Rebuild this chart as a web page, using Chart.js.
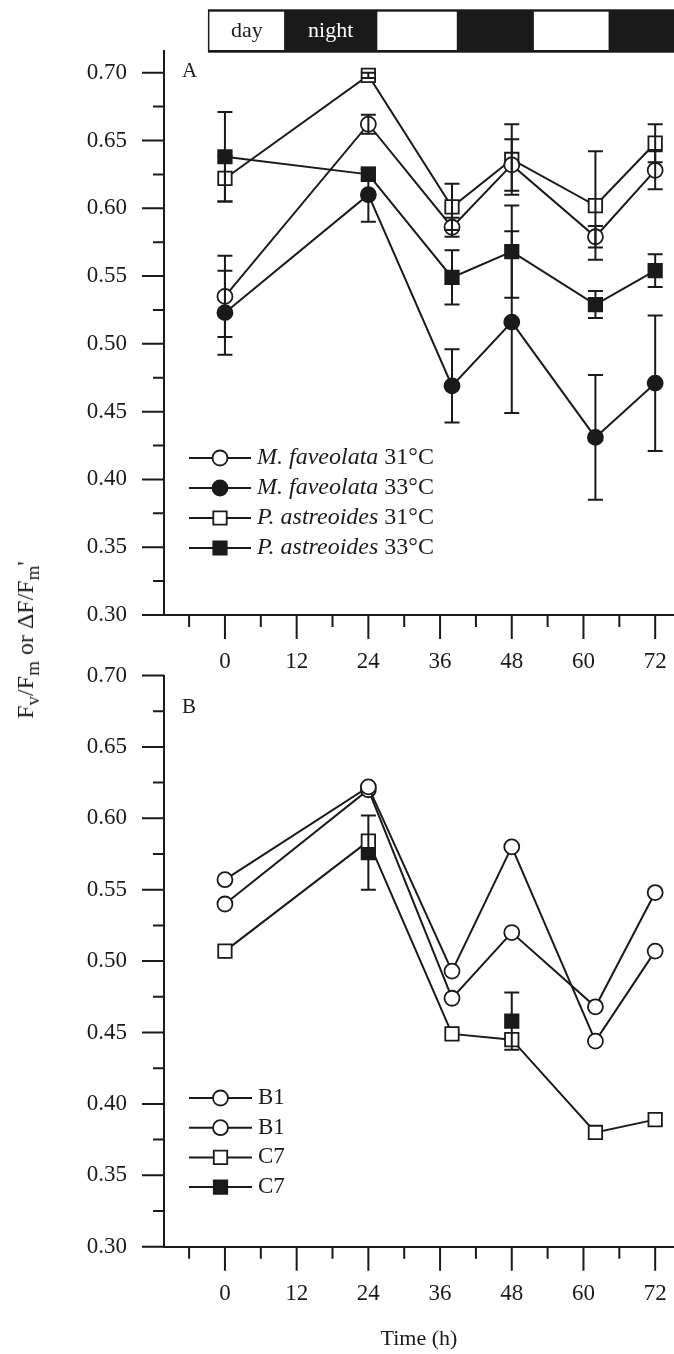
<!DOCTYPE html>
<html>
<head>
<meta charset="utf-8">
<script src="https://cdn.jsdelivr.net/npm/chart.js@4.4.0/dist/chart.umd.min.js"></script>
<style>
  body { margin: 0; background: #fff; }
  #wrap { position: relative; width: 674px; height: 1354px; font-family: "Liberation Serif", "Times New Roman", serif; color: #1a1a1a; overflow: hidden; }
  canvas { position: absolute; left: 0; }
  #chartA { top: 0; }
  #chartB { top: 640px; }
  #yTitle { position: absolute; left: 25px; top: 640px; transform: translate(-50%, -50%) rotate(-90deg); white-space: nowrap; font-size: 24px; line-height: 1; }
  #yTitle sub { font-size: 19px; vertical-align: -6px; line-height: 0; }
  #xTitle { position: absolute; left: 419px; top: 1338px; transform: translate(-50%, -50%); font-size: 22px; white-space: nowrap; line-height: 1; }
</style>
</head>
<body>
<div id="wrap">
  <canvas id="chartA" width="674" height="700"></canvas>
  <canvas id="chartB" width="674" height="714"></canvas>
  <div id="yTitle">F<sub>v</sub>/F<sub>m</sub> or ΔF/F<sub>m</sub>'</div>
  <div id="xTitle">Time (h)</div>
</div>
<script>
// ---- data ----
const xMajorTicks = [0, 12, 24, 36, 48, 60, 72];
const xMinorTicks = [-6, 6, 18, 30, 42, 54, 66];
const yMajorTicks = [0.30, 0.35, 0.40, 0.45, 0.50, 0.55, 0.60, 0.65, 0.70];
const yMinorTicks = [0.325, 0.375, 0.425, 0.475, 0.525, 0.575, 0.625, 0.675];

// light regime bar (hours)
const barSpan = [-2.85, 75.2];
const dayPeriods = [[-2.6, 9.9], [25.5, 38.8], [51.7, 64.2]];
const phaseNames = ['day', 'night'];

// panel A
const hoursA = [0, 24, 38, 48, 62, 72];
const speciesA = ['M. faveolata', 'M. faveolata', 'P. astreoides', 'P. astreoides'];
const tempsA = ['31°C', '33°C', '31°C', '33°C'];
const mFav31 = [0.535, 0.662, 0.586, 0.632, 0.579, 0.628];
const mFav31Err = [0.030, 0.007, 0.007, 0.019, 0.008, 0.014];
const mFav33 = [0.523, 0.610, 0.469, 0.516, 0.431, 0.471];
const mFav33Err = [0.031, 0.020, 0.027, 0.067, 0.046, 0.050];
const pAst31 = [0.622, 0.698, 0.601, 0.636, 0.602, 0.648];
const pAst31Err = [0.017, 0.002, 0.017, 0.026, 0.040, 0.014];
const pAst33 = [0.638, 0.625, 0.549, 0.568, 0.529, 0.554];
const pAst33Err = [0.033, 0.004, 0.020, 0.034, 0.010, 0.012];

// panel B
const hoursB = [0, 24, 38, 48, 62, 72];
const labelsB = ['B1', 'B1', 'C7', 'C7'];
const b1First = [0.557, 0.622, 0.493, 0.580, 0.444, 0.507];
const b1Second = [0.540, 0.620, 0.474, 0.520, 0.468, 0.548];
const c7Open = [0.507, 0.584, 0.449, 0.445, 0.380, 0.389];
const c7Filled = [null, 0.576, null, 0.458, null, null];
const c7FilledErr = [null, 0.026, null, 0.020, null, null];

const ink = '#1a1a1a';
const serif = '"Liberation Serif", "Times New Roman", serif';

function toPoints(xs, ys) {
  return xs.map((x, i) => ({ x: x, y: ys[i] }));
}

function series(label, xs, ys, errs, shape, filled, extra) {
  return Object.assign({
    label: label,
    data: toPoints(xs, ys),
    errors: errs,
    borderColor: ink,
    borderWidth: 2,
    tension: 0,
    spanGaps: false,
    pointStyle: shape,
    pointRadius: shape === 'rect' ? 9.5 : 7.5,
    pointBorderWidth: 1.8,
    pointBorderColor: ink,
    pointBackgroundColor: filled ? ink : '#fff'
  }, extra || {});
}

function drawMarker(ctx, ds, x, y) {
  ctx.save();
  ctx.lineWidth = ds.pointBorderWidth;
  ctx.strokeStyle = ink;
  ctx.fillStyle = ds.pointBackgroundColor;
  ctx.beginPath();
  if (ds.pointStyle === 'rect') {
    const s = ds.pointRadius * Math.SQRT1_2;
    ctx.rect(x - s, y - s, 2 * s, 2 * s);
  } else {
    ctx.arc(x, y, ds.pointRadius, 0, Math.PI * 2);
  }
  ctx.fill();
  ctx.stroke();
  ctx.restore();
}

const axisTicks = {
  id: 'axisTicks',
  afterDraw(chart) {
    const ctx = chart.ctx, x = chart.scales.x, y = chart.scales.y, a = chart.chartArea;
    ctx.save();
    ctx.strokeStyle = ink;
    ctx.lineWidth = 2;
    ctx.beginPath();
    xMajorTicks.forEach(v => { const p = x.getPixelForValue(v); ctx.moveTo(p, a.bottom); ctx.lineTo(p, a.bottom + 24); });
    xMinorTicks.forEach(v => { const p = x.getPixelForValue(v); ctx.moveTo(p, a.bottom); ctx.lineTo(p, a.bottom + 12); });
    yMajorTicks.forEach(v => { const p = y.getPixelForValue(v); ctx.moveTo(a.left, p); ctx.lineTo(a.left - 22, p); });
    yMinorTicks.forEach(v => { const p = y.getPixelForValue(v); ctx.moveTo(a.left, p); ctx.lineTo(a.left - 11, p); });
    ctx.stroke();
    ctx.restore();
  }
};

const errorBars = {
  id: 'errorBars',
  afterDatasetsDraw(chart) {
    const ctx = chart.ctx, x = chart.scales.x, y = chart.scales.y;
    ctx.save();
    ctx.strokeStyle = ink;
    ctx.lineWidth = 2;
    chart.data.datasets.forEach(ds => {
      if (!ds.errors) return;
      ds.data.forEach((p, i) => {
        const e = ds.errors[i];
        if (p.y == null || !e) return;
        const px = x.getPixelForValue(p.x);
        const top = y.getPixelForValue(p.y + e);
        const bot = y.getPixelForValue(p.y - e);
        ctx.beginPath();
        ctx.moveTo(px, top); ctx.lineTo(px, bot);
        ctx.moveTo(px - 7.5, top); ctx.lineTo(px + 7.5, top);
        ctx.moveTo(px - 7.5, bot); ctx.lineTo(px + 7.5, bot);
        ctx.stroke();
      });
    });
    ctx.restore();
  }
};

const insideLegend = {
  id: 'insideLegend',
  afterDraw(chart, args, opts) {
    const ctx = chart.ctx;
    chart.data.datasets.forEach((ds, i) => {
      const yy = opts.top + i * opts.step;
      ctx.save();
      ctx.strokeStyle = ink;
      ctx.lineWidth = 2;
      ctx.beginPath();
      ctx.moveTo(opts.lineFrom, yy);
      ctx.lineTo(opts.lineTo, yy);
      ctx.stroke();
      ctx.restore();
      drawMarker(ctx, ds, (opts.lineFrom + opts.lineTo) / 2, yy);
      ctx.save();
      ctx.fillStyle = ink;
      ctx.textBaseline = 'middle';
      ctx.textAlign = 'left';
      let tx = opts.textX;
      if (ds.italicPart) {
        ctx.font = 'italic ' + opts.size + 'px ' + serif;
        ctx.fillText(ds.italicPart, tx, yy);
        tx += ctx.measureText(ds.italicPart + ' ').width;
        ctx.font = opts.size + 'px ' + serif;
        ctx.fillText(ds.plainPart, tx, yy);
      } else {
        ctx.font = opts.size + 'px ' + serif;
        ctx.fillText(ds.label, tx, yy);
      }
      ctx.restore();
    });
  }
};

const panelLetter = {
  id: 'panelLetter',
  afterDraw(chart, args, opts) {
    const ctx = chart.ctx;
    ctx.save();
    ctx.fillStyle = ink;
    ctx.font = '21px ' + serif;
    ctx.textBaseline = 'middle';
    ctx.textAlign = 'left';
    ctx.fillText(opts.text, opts.x, opts.y);
    ctx.restore();
  }
};

const lightBar = {
  id: 'lightBar',
  afterDraw(chart, args, opts) {
    if (!opts.show) return;
    const ctx = chart.ctx, x = chart.scales.x;
    const x0 = x.getPixelForValue(barSpan[0]);
    const x1 = Math.min(x.getPixelForValue(barSpan[1]), chart.width);
    ctx.save();
    ctx.fillStyle = ink;
    ctx.fillRect(x0, opts.outerTop, x1 - x0, opts.outerBottom - opts.outerTop);
    ctx.fillStyle = '#fff';
    dayPeriods.forEach(d => {
      const a = x.getPixelForValue(d[0]), b = x.getPixelForValue(d[1]);
      ctx.fillRect(a, opts.innerTop, b - a, opts.innerBottom - opts.innerTop);
    });
    const midY = (opts.innerTop + opts.innerBottom) / 2;
    ctx.font = '22px ' + serif;
    ctx.textAlign = 'center';
    ctx.textBaseline = 'middle';
    ctx.fillStyle = ink;
    ctx.fillText(phaseNames[0], x.getPixelForValue((dayPeriods[0][0] + dayPeriods[0][1]) / 2), midY);
    ctx.fillStyle = '#fff';
    ctx.fillText(phaseNames[1], x.getPixelForValue((dayPeriods[0][1] + dayPeriods[1][0]) / 2), midY);
    ctx.restore();
  }
};

function makeOptions(yMax, xHeight, padTop, letter, legendOpts, barOpts) {
  return {
    responsive: false,
    animation: false,
    events: [],
    layout: { autoPadding: false, padding: { top: padTop, right: 0, left: 0, bottom: 0 } },
    scales: {
      x: {
        type: 'linear',
        min: -10.2,
        max: 75.15,
        afterBuildTicks: s => { s.ticks = xMajorTicks.map(v => ({ value: v })); },
        afterFit: s => { s.height = xHeight; s.paddingLeft = 0; s.paddingRight = 0; },
        grid: { display: true, drawOnChartArea: false, drawTicks: false, tickLength: 0 },
        border: { display: true, color: ink, width: 2 },
        ticks: { color: ink, padding: 33, maxRotation: 0, font: { family: serif, size: 23 } }
      },
      y: {
        type: 'linear',
        min: 0.30,
        max: yMax,
        afterBuildTicks: s => { s.ticks = yMajorTicks.map(v => ({ value: v })); },
        afterFit: s => { s.width = 164; s.paddingTop = 0; s.paddingBottom = 0; },
        grid: { display: true, drawOnChartArea: false, drawTicks: false, tickLength: 0 },
        border: { display: true, color: ink, width: 2 },
        ticks: { color: ink, padding: 37, font: { family: serif, size: 23 }, callback: v => Number(v).toFixed(2) }
      }
    },
    plugins: {
      legend: { display: false },
      tooltip: { enabled: false },
      insideLegend: legendOpts,
      panelLetter: letter,
      lightBar: barOpts
    }
  };
}

const dsA = [
  series(speciesA[0] + ' ' + tempsA[0], hoursA, mFav31, mFav31Err, 'circle', false, { italicPart: speciesA[0], plainPart: tempsA[0] }),
  series(speciesA[1] + ' ' + tempsA[1], hoursA, mFav33, mFav33Err, 'circle', true, { italicPart: speciesA[1], plainPart: tempsA[1] }),
  series(speciesA[2] + ' ' + tempsA[2], hoursA, pAst31, pAst31Err, 'rect', false, { italicPart: speciesA[2], plainPart: tempsA[2] }),
  series(speciesA[3] + ' ' + tempsA[3], hoursA, pAst33, pAst33Err, 'rect', true, { italicPart: speciesA[3], plainPart: tempsA[3] })
];

const dsB = [
  series(labelsB[0], hoursB, b1First, null, 'circle', false),
  series(labelsB[1], hoursB, b1Second, null, 'circle', false),
  series(labelsB[2], hoursB, c7Open, null, 'rect', false),
  series(labelsB[3], hoursB, c7Filled, c7FilledErr, 'rect', true)
];

new Chart(document.getElementById('chartA'), {
  type: 'line',
  data: { datasets: dsA },
  options: makeOptions(0.716, 85, 51,
    { text: 'A', x: 182, y: 71 },
    { top: 458, step: 30, lineFrom: 189, lineTo: 251, textX: 257, size: 24 },
    { show: true, outerTop: 9.3, outerBottom: 52.7, innerTop: 11.7, innerBottom: 50 }),
  plugins: [axisTicks, errorBars, insideLegend, panelLetter, lightBar]
});

new Chart(document.getElementById('chartB'), {
  type: 'line',
  data: { datasets: dsB },
  options: makeOptions(0.70, 107.3, 35.5,
    { text: 'B', x: 182, y: 67 },
    { top: 458, step: 29.7, lineFrom: 189, lineTo: 252, textX: 258, size: 23 },
    { show: false }),
  plugins: [axisTicks, errorBars, insideLegend, panelLetter, lightBar]
});
</script>
</body>
</html>
